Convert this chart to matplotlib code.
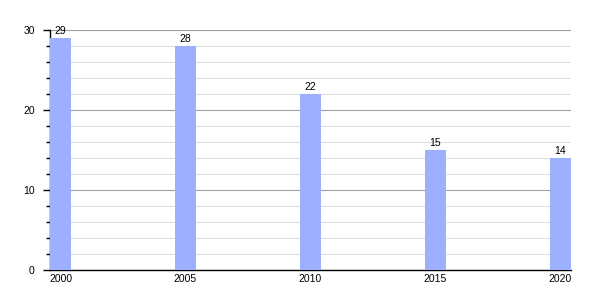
import matplotlib
matplotlib.use("Agg")
import matplotlib.pyplot as plt
from matplotlib.ticker import MultipleLocator

years = [2000, 2005, 2010, 2015, 2020]
values = [29, 28, 22, 15, 14]

plt.rcParams['font.family'] = ['Liberation Sans', 'DejaVu Sans']

fig = plt.figure(figsize=(6, 3), dpi=100)
ax = fig.add_axes([50/600, 30/300, 521/600, 240/300])
w = 0.84
ax.bar(years, values, width=w, color='#9db0ff', zorder=3)
for x, v in zip(years, values):
    ax.text(x, v + 0.3, str(v), ha='center', va='bottom', fontsize=7.5, zorder=4)

ax.set_xlim(2000 - w/2, 2020 + w/2)
ax.set_ylim(0, 30)
ax.set_xticks(years)
ax.set_xticklabels([str(y) for y in years])
ax.yaxis.set_major_locator(MultipleLocator(10))
ax.yaxis.set_minor_locator(MultipleLocator(2))
ax.grid(axis='y', which='major', color='#a0a0a0', linewidth=0.8, zorder=0)
ax.grid(axis='y', which='minor', color='#e0e0e0', linewidth=0.8, zorder=0)
ax.spines['top'].set_visible(False)
ax.spines['right'].set_visible(False)
ax.spines['left'].set_linewidth(1.0)
ax.spines['bottom'].set_linewidth(1.0)
ax.tick_params(axis='y', which='major', length=5, width=1, labelsize=7.5, pad=6)
ax.tick_params(axis='y', which='minor', length=3, width=1)
ax.tick_params(axis='x', length=0, labelsize=7.5, pad=3)
fig.savefig('out.png', dpi=100)
